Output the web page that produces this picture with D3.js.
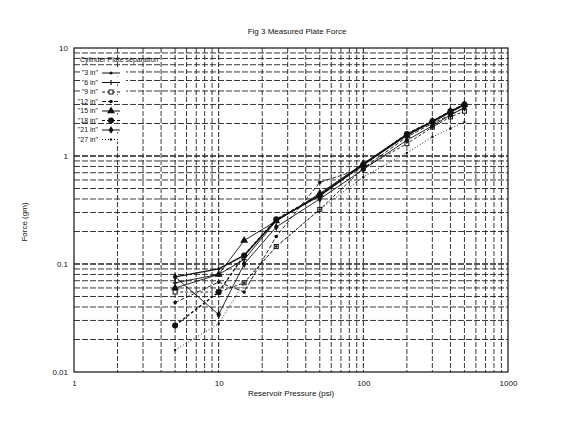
<!DOCTYPE html>
<html><head><meta charset="utf-8">
<script src="https://cdn.jsdelivr.net/npm/d3@7/dist/d3.min.js"></script>
<style>body{margin:0;background:#fff}svg{display:block}text{font-family:"Liberation Sans",Arial,sans-serif;fill:#111}</style>
</head><body><svg id="c" width="576" height="428"></svg>
<script>
const pressures = [5, 10, 15, 25, 50, 100, 200, 300, 400, 500];
const seriesNames = ['"3 in"', '"6 in"', '"9 in"', '"12 in"', '"15 in"', '"18 in"', '"21 in"', '"27 in"'];
const s3  = [0.076, 0.090, 0.120, 0.255, 0.43, 0.83, 1.56, 2.07, 2.55, 2.97];
const s6  = [0.067, 0.080, 0.110, 0.250, 0.44, 0.85, 1.60, 2.10, 2.60, 3.00];
const s9  = [0.055, 0.055, 0.067, 0.145, 0.32, 0.77, 1.30, 1.85, 2.30, 2.60];
const s12 = [0.044, 0.068, 0.055, 0.180, 0.57, 0.77, 1.50, 2.00, 2.40, 2.80];
const s15 = [0.060, 0.080, 0.165, 0.250, 0.45, 0.85, 1.55, 2.10, 2.60, 3.00];
const s18 = [0.027, 0.055, 0.120, 0.260, 0.43, 0.83, 1.60, 2.10, 2.60, 3.00];
const s21 = [0.076, 0.034, 0.100, 0.220, 0.40, 0.75, 1.40, 1.90, 2.40, 2.80];
const s27 = [0.016, 0.028, 0.067, 0.145, 0.32, 0.64, 1.07, 1.50, 1.80, 2.06];
const seriesValues = [s3, s6, s9, s12, s15, s18, s21, s27];
const xTickLabels = ["1", "10", "100", "1000"];
const yTickLabels = ["0.01", "0.1", "1", "10"];

const styles = [
  {dash: null, sym: "dot", r: 1.5},
  {dash: null, sym: "plus", r: 2.5},
  {dash: "3,2", sym: "square", r: 2},
  {dash: "4,2", sym: "dot", r: 1.8},
  {dash: null, sym: "triangle", r: 3},
  {dash: "3,2", sym: "dot", r: 3},
  {dash: null, sym: "diamond", r: 2.5},
  {dash: "1,2", sym: "dot", r: 1.2}
];

const svg = d3.select("#c");
const L = 74, R = 508, T = 48, B = 372;
const x = d3.scaleLog().domain([1, 1000]).range([L, R]);
const y = d3.scaleLog().domain([0.01, 10]).range([B, T]);

// grid
const g = svg.append("g");
for (let d = 1; d < 1000; d *= 10) for (let k = 2; k <= 9; k++) {
  g.append("line").attr("x1", x(d*k)).attr("x2", x(d*k)).attr("y1", T).attr("y2", B)
    .attr("stroke", "#222").attr("stroke-width", 0.9).attr("stroke-dasharray", "5,2");
}
[10, 100].forEach(v => g.append("line").attr("x1", x(v)).attr("x2", x(v)).attr("y1", T).attr("y2", B)
    .attr("stroke", "#222").attr("stroke-width", 1).attr("stroke-dasharray", "5,2"));
for (let d = 0.01; d < 10; d *= 10) for (let k = 1; k <= 9; k++) {
  if (k === 1 && d === 0.01) continue;
  g.append("line").attr("x1", L).attr("x2", R).attr("y1", y(d*k)).attr("y2", y(d*k))
    .attr("stroke", "#222").attr("stroke-width", k === 1 ? 1.3 : 0.9).attr("stroke-dasharray", "6,2");
}
svg.append("rect").attr("x", L).attr("y", T).attr("width", R-L).attr("height", B-T)
  .attr("fill", "none").attr("stroke", "#111").attr("stroke-width", 1.2);

// axes labels
const xa = d3.axisBottom(x).tickValues([1, 10, 100, 1000]).tickFormat((d, i) => xTickLabels[i]).tickSize(0).tickPadding(8);
svg.append("g").attr("transform", `translate(0,${B})`).call(xa)
  .call(s => s.select(".domain").remove()).selectAll("text").attr("font-size", 8).attr("fill", "#111");
const ya = d3.axisLeft(y).tickValues([0.01, 0.1, 1, 10]).tickFormat((d, i) => yTickLabels[i]).tickSize(0).tickPadding(6);
svg.append("g").attr("transform", `translate(${L},0)`).call(ya)
  .call(s => s.select(".domain").remove()).selectAll("text").attr("font-size", 8).attr("fill", "#111");

svg.append("text").attr("x", 297).attr("y", 34).attr("text-anchor", "middle").attr("font-size", 8).text("Fig 3  Measured Plate Force");
svg.append("text").attr("x", 291).attr("y", 396).attr("text-anchor", "middle").attr("font-size", 8).text("Reservoir Pressure (psi)");
svg.append("text").attr("transform", "translate(27,222) rotate(-90)").attr("text-anchor", "middle").attr("font-size", 8).text("Force (gm)");

function symbol(sel, st, cx, cy) {
  if (st.sym === "dot") sel.append("circle").attr("cx", cx).attr("cy", cy).attr("r", st.r).attr("fill", "#111");
  else if (st.sym === "plus") sel.append("path").attr("d", `M${cx-st.r},${cy}H${cx+st.r}M${cx},${cy-st.r}V${cy+st.r}`).attr("stroke", "#111").attr("stroke-width", 1.2);
  else if (st.sym === "square") sel.append("rect").attr("x", cx-st.r).attr("y", cy-st.r).attr("width", 2*st.r).attr("height", 2*st.r).attr("fill", "#fff").attr("stroke", "#111");
  else if (st.sym === "triangle") sel.append("path").attr("d", d3.symbol(d3.symbolTriangle, st.r*st.r*3)()).attr("transform", `translate(${cx},${cy})`).attr("fill", "#111");
  else if (st.sym === "diamond") sel.append("path").attr("d", d3.symbol(d3.symbolDiamond, st.r*st.r*3)()).attr("transform", `translate(${cx},${cy})`).attr("fill", "#111");
}

// series
const line = d3.line().x(d => x(d[0])).y(d => y(d[1]));
seriesValues.forEach((vals, i) => {
  const st = styles[i];
  const pts = pressures.map((p, j) => [p, vals[j]]);
  const sg = svg.append("g");
  sg.append("path").attr("d", line(pts)).attr("fill", "none").attr("stroke", "#111")
    .attr("stroke-width", i === 0 || i === 5 ? 1.4 : 0.9).attr("stroke-dasharray", st.dash);
  pts.forEach(p => symbol(sg, st, x(p[0]), y(p[1])));
});

// legend
svg.append("text").attr("x", 80).attr("y", 62).attr("font-size", 7).text("Cylinder Plate separation");
seriesNames.forEach((n, i) => {
  const ly = 73 + i * 9.5;
  svg.append("rect").attr("x", 80).attr("y", ly - 6).attr("width", 46).attr("height", 8).attr("fill", "#fff");
  svg.append("text").attr("x", 98).attr("y", ly + 2).attr("text-anchor", "end").attr("font-size", 7).text(n);
  const st = styles[i];
  const lg = svg.append("g");
  lg.append("line").attr("x1", 102).attr("x2", 120).attr("y1", ly).attr("y2", ly).attr("stroke", "#111")
    .attr("stroke-width", 1).attr("stroke-dasharray", st.dash);
  symbol(lg, st, 111, ly);
});
</script></body></html>
